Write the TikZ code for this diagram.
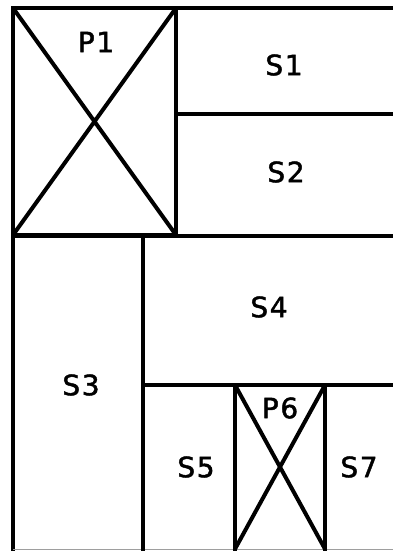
\documentclass[tikz,border=0pt]{standalone}
\usepackage{fontspec}
\newfontfamily\roomfont[LetterSpace=6,FakeBold=1.6]{DejaVu Sans}
\usepackage{xcolor}
\usepackage{tikz}
\definecolor{wallgray}{HTML}{9E9E9E}
\tikzset{
  wall/.style={line width=4.8pt,line cap=rect},
  cross/.style={line width=4pt},
  roomlabel/.style={font=\roomfont\fontsize{28}{30}\selectfont,inner sep=0pt}
}

\begin{document}
\begin{tikzpicture}[x=1pt,y=-1pt]
        \useasboundingbox (0,0) rectangle (393,551);
        % outer walls
        \draw[wall] (393,8) -- (13,8) -- (13,549);
        \draw[wallgray,line width=0.8pt] (13,549) -- (393,549);
        % P1 box
        \draw[wall] (13,8) rectangle (176,235);
        \draw[cross] (13,8) -- (176,235) (176,8) -- (13,235);
        \node[roomlabel] (p1) at (96,42) {P1};
        % S1 / S2
        \draw[wall] (176,114) -- (393,114);
        \draw[wall] (13,236) -- (393,236);
        \node[roomlabel] (s1) at (284,65) {S1};
        \node[roomlabel] (s2) at (286,172) {S2};
        % S3 and S4
        \draw[wall] (143,236) -- (143,549);
        \draw[wall] (143,385) -- (393,385);
        \node[roomlabel] (s3) at (81,385) {S3};
        \node[roomlabel] (s4) at (269,307) {S4};
        % P6 box
        \draw[wall] (235,549) -- (235,385) -- (325,385) -- (325,549);
        \draw[cross] (235,385) -- (325,549) (325,385) -- (235,549);
        \node[roomlabel] (p6) at (280,408) {P6};
        \node[roomlabel] (s5) at (196,467) {S5};
        \node[roomlabel] (s7) at (359,467) {S7};
      \end{tikzpicture}
\end{document}
